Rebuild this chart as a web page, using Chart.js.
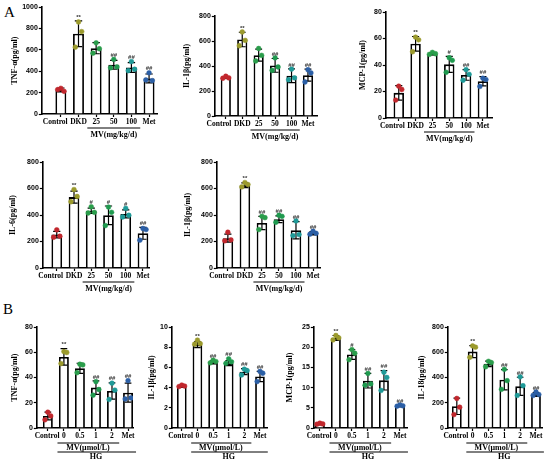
<!DOCTYPE html>
<html>
<head>
<meta charset="utf-8">
<script src="https://cdn.jsdelivr.net/npm/chart.js@4.4.1/dist/chart.umd.min.js"></script>
<style>
  html, body { margin: 0; padding: 0; background: #fff; }
  #fig { position: relative; width: 550px; height: 464px; overflow: hidden; }
  #fig canvas { position: absolute; }
  .plabel { position: absolute; font-family: 'Liberation Serif', serif; font-size: 15px; line-height: 1; }
</style>
</head>
<body>
<div id="fig">
  <div class="plabel" style="left:4px;top:5px">A</div>
  <div class="plabel" style="left:3px;top:302px">B</div>
</div>
<script>
// --- данные ---
const labelsA = ['Control', 'DKD', '25', '50', '100', 'Met'];
const labelsB = ['Control', '0', '0.5', '1', '2', 'Met'];

// A: TNF-α
const tnfA_mean = [225, 750, 615, 460, 435, 332];
const tnfA_sd = [18, 120, 52, 42, 46, 42];
const tnfA_pts = [[240, 212, 228], [860, 770, 625], [665, 610, 568], [510, 440, 432], [490, 418, 405], [385, 312, 318]];
const tnfA_sig = ['', '**', '', '##', '##', '##'];

// A: IL-1β
const il1bA_mean = [308, 612, 487, 405, 322, 327];
const il1bA_sd = [8, 58, 48, 55, 55, 48];
const il1bA_pts = [[318, 305, 302], [672, 605, 562], [540, 485, 440], [465, 392, 365], [375, 305, 290], [370, 345, 272]];
const il1bA_sig = ['', '**', '', '##', '##', '##'];

// A: MCP-1
const mcp1A_mean = [19, 56, 48.5, 40.5, 32.5, 27.7];
const mcp1A_sd = [5.5, 5.5, 0.8, 6, 4, 3.5];
const mcp1A_pts = [[24, 21.5, 13.5], [61, 59, 50], [49.5, 48.5, 48], [45.5, 43.5, 34.5], [36.5, 33, 28.5], [30, 29, 23.8]];
const mcp1A_sig = ['', '**', '', '#', '##', '##'];

// A: IL-6
const il6A_mean = [252, 535, 432, 398, 408, 262];
const il6A_sd = [25, 45, 20, 70, 30, 45];
const il6A_pts = [[288, 240, 232], [592, 540, 500], [462, 420, 415], [460, 420, 320], [450, 398, 385], [298, 290, 210]];
const il6A_sig = ['', '**', '#', '#', '#', '##'];

// A: IL-1β (второй ряд)
const il1bA2_mean = [225, 625, 340, 368, 285, 262];
const il1bA2_sd = [30, 18, 50, 25, 65, 12];
const il1bA2_pts = [[270, 212, 205], [645, 630, 612], [390, 380, 290], [398, 390, 345], [355, 252, 245], [278, 262, 255]];
const il1bA2_sig = ['', '**', '##', '##', '##', '##'];

// B: TNF-α
const tnfB_mean = [9.5, 56.3, 47.3, 32, 29.3, 28];
const tnfB_sd = [3, 6.5, 4, 5.3, 6.5, 7.5];
const tnfB_pts = [[12.5, 9.5, 6.5], [60.5, 59.8, 51], [50.5, 50, 43.8], [36.7, 30.5, 26], [35.5, 30, 22.6], [37.5, 23.8, 23]];
const tnfB_sig = ['', '**', '', '##', '##', '##'];

// B: IL-1β
const il1bB_mean = [4.15, 8.25, 6.5, 6.42, 5.58, 5.1];
const il1bB_sd = [0.1, 0.3, 0.15, 0.25, 0.3, 0.5];
const il1bB_pts = [[4.25, 4.15, 4.1], [8.7, 8.35, 8.3], [6.72, 6.58, 6.45], [6.85, 6.55, 6.4], [5.82, 5.68, 5.25], [5.6, 5.42, 4.6]];
const il1bB_sig = ['', '**', '##', '##', '##', '##'];

// B: MCP-1
const mcp1B_mean = [1.05, 22.3, 18.2, 11.7, 11.8, 5.5];
const mcp1B_sd = [0.2, 0.6, 1.2, 1.8, 2.4, 0.2];
const mcp1B_pts = [[1.2, 1.0, 0.95], [22.9, 22.3, 21.8], [19.4, 18.5, 16.9], [13.5, 10.9, 10.6], [13.8, 12.5, 9.3], [5.7, 5.5, 5.4]];
const mcp1B_sig = ['', '**', '#', '##', '##', '##'];

// B: IL-18
const il18B_mean = [172, 605, 508, 382, 330, 265];
const il18B_sd = [65, 48, 22, 80, 72, 15];
const il18B_pts = [[234, 165, 106], [650, 640, 560], [528, 518, 485], [465, 375, 306], [405, 335, 258], [285, 265, 258]];
const il18B_sig = ['', '**', '', '##', '##', '##'];

// --- оформление ---
const GROUP_COLORS = ['#c1272d', '#9b9a2c', '#2a9d4b', '#1f9a4f', '#1e9a98', '#2b5fa6'];
const JITTER = [0, 0.18, -0.18];
const SERIF = "'Liberation Serif', 'Times New Roman', serif";
const SANS = "'Liberation Sans', Arial, sans-serif";
const XH = 12;   // высота оси X
const PB = 34;   // место под подписи групп

Chart.defaults.font.family = SANS;
Chart.defaults.color = '#000';

const panels = [
  { title: 'TNF-α(pg/ml)', labels: labelsA, mean: tnfA_mean, sd: tnfA_sd, pts: tnfA_pts, sig: tnfA_sig, ymax: 1000, ystep: 200, kind: 'A',
    box: { titleX: 15, axisX: 42, topY: 7, bottomY: 114, endX: 157, xmin: -1.08, xmax: 5.45 } },
  { title: 'IL-1β(pg/ml)', labels: labelsA, mean: il1bA_mean, sd: il1bA_sd, pts: il1bA_pts, sig: il1bA_sig, ymax: 800, ystep: 200, kind: 'A',
    box: { titleX: 187, axisX: 215, topY: 16, bottomY: 116, endX: 317, xmin: -0.67, xmax: 5.55 } },
  { title: 'MCP-1(pg/ml)', labels: labelsA, mean: mcp1A_mean, sd: mcp1A_sd, pts: mcp1A_pts, sig: mcp1A_sig, ymax: 80, ystep: 20, kind: 'A',
    box: { titleX: 363, axisX: 386, topY: 12, bottomY: 118, endX: 492, xmin: -0.77, xmax: 5.54 } },
  { title: 'IL-6(pg/ml)', labels: labelsA, mean: il6A_mean, sd: il6A_sd, pts: il6A_pts, sig: il6A_sig, ymax: 800, ystep: 200, kind: 'A',
    box: { titleX: 13, axisX: 43, topY: 162, bottomY: 268, endX: 149, xmin: -0.81, xmax: 5.35 } },
  { title: 'IL-1β(pg/ml)', labels: labelsA, mean: il1bA2_mean, sd: il1bA2_sd, pts: il1bA2_pts, sig: il1bA2_sig, ymax: 800, ystep: 200, kind: 'A',
    box: { titleX: 188, axisX: 217, topY: 162, bottomY: 268, endX: 320, xmin: -0.65, xmax: 5.41 } },
  { title: 'TNF-α(pg/ml)', labels: labelsB, mean: tnfB_mean, sd: tnfB_sd, pts: tnfB_pts, sig: tnfB_sig, ymax: 80, ystep: 20, kind: 'B',
    box: { titleX: 15, axisX: 37, topY: 327, bottomY: 428, endX: 133, xmin: -0.69, xmax: 5.31 } },
  { title: 'IL-1β(pg/ml)', labels: labelsB, mean: il1bB_mean, sd: il1bB_sd, pts: il1bB_pts, sig: il1bB_sig, ymax: 10, ystep: 2, kind: 'B',
    box: { titleX: 152, axisX: 172, topY: 327, bottomY: 428, endX: 267, xmin: -0.64, xmax: 5.45 } },
  { title: 'MCP-1(pg/ml)', labels: labelsB, mean: mcp1B_mean, sd: mcp1B_sd, pts: mcp1B_pts, sig: mcp1B_sig, ymax: 25, ystep: 5, kind: 'B',
    box: { titleX: 290, axisX: 314, topY: 327, bottomY: 428, endX: 407, xmin: -0.38, xmax: 5.44 } },
  { title: 'IL-18(pg/ml)', labels: labelsB, mean: il18B_mean, sd: il18B_sd, pts: il18B_pts, sig: il18B_sig, ymax: 800, ystep: 200, kind: 'B',
    box: { titleX: 422, axisX: 448, topY: 327, bottomY: 428, endX: 542, xmin: -0.57, xmax: 5.38 } }
];

/**
* Точки отдельных животных/лунок: раскладываем вокруг центра столбца.
*/
function buildPoints(pts) {
  const data = [], colors = [];
  pts.forEach((grp, i) => grp.forEach((v, j) => {
    data.push({ x: i + JITTER[j], y: v });
    colors.push(GROUP_COLORS[i]);
  }));
  return { data, colors };
}

/**
* Плагин: планки ошибок, подписи категорий, значки значимости и подписи групп под осью.
*/
function panelExtras(p) {
  return {
    id: 'panelExtras',
    afterDatasetDraw(chart, args) {
      if (args.index !== 0) return;
      const { ctx, scales: { x, y } } = chart;
      const sp = x.getPixelForValue(1) - x.getPixelForValue(0);
      const cap = sp * 0.21;
      ctx.save();
      ctx.strokeStyle = '#000';
      ctx.lineWidth = 1.2;
      p.mean.forEach((m, i) => {
        const cx = x.getPixelForValue(i);
        const hi = y.getPixelForValue(m + p.sd[i]);
        const lo = y.getPixelForValue(Math.max(m - p.sd[i], 0));
        ctx.beginPath();
        ctx.moveTo(cx, hi); ctx.lineTo(cx, lo);
        ctx.moveTo(cx - cap, hi); ctx.lineTo(cx + cap, hi);
        ctx.moveTo(cx - cap, lo); ctx.lineTo(cx + cap, lo);
        ctx.stroke();
      });
      ctx.restore();
    },
    afterDraw(chart) {
      const { ctx, chartArea, scales: { x, y } } = chart;
      const sp = x.getPixelForValue(1) - x.getPixelForValue(0);
      const bottom = chartArea.bottom;
      ctx.save();

      // подписи категорий: по центру столбца, но без наложения соседей
      ctx.fillStyle = '#000';
      ctx.font = 'bold 7.5px ' + SERIF;
      ctx.textAlign = 'center';
      ctx.textBaseline = 'middle';
      const w = p.labels.map(t => ctx.measureText(t).width);
      const c = p.labels.map((_, i) => x.getPixelForValue(i));
      for (let i = c.length - 2; i >= 0; i--) {
        c[i] = Math.min(c[i], c[i + 1] - w[i + 1] / 2 - 2.5 - w[i] / 2);
      }
      p.labels.forEach((t, i) => ctx.fillText(t, c[i], bottom + 8.5));

      // значимость
      ctx.fillStyle = '#333';
      ctx.font = 'bold 6px ' + SANS;
      ctx.textBaseline = 'bottom';
      p.sig.forEach((s, i) => {
        if (!s) return;
        const top = Math.min(y.getPixelForValue(p.mean[i] + p.sd[i]), ...p.pts[i].map(v => y.getPixelForValue(v)));
        ctx.fillText(s, x.getPixelForValue(i), top - 1);
      });

      // подписи групп
      ctx.strokeStyle = '#000';
      ctx.lineWidth = 1;
      ctx.fillStyle = '#000';
      ctx.font = 'bold 8px ' + SERIF;
      ctx.textBaseline = 'middle';
      const line = (x1, x2, yy) => { ctx.beginPath(); ctx.moveTo(x1, yy); ctx.lineTo(x2, yy); ctx.stroke(); };
      if (p.kind === 'A') {
        line(x.getPixelForValue(2) - 0.5 * sp, x.getPixelForValue(4) + 0.5 * sp, bottom + 14);
        ctx.fillText('MV(mg/kg/d)', x.getPixelForValue(3), bottom + 20.5);
      } else {
        line(x.getPixelForValue(1) - 0.4 * sp, x.getPixelForValue(4) + 0.45 * sp, bottom + 15);
        ctx.fillText('MV(μmol/L)', (x.getPixelForValue(1) + x.getPixelForValue(4)) / 2, bottom + 19.5);
        line(x.getPixelForValue(1) - 0.4 * sp, x.getPixelForValue(5) + 0.5 * sp, bottom + 24);
        ctx.fillText('HG', (x.getPixelForValue(1) + x.getPixelForValue(5)) / 2, bottom + 29);
      }
      ctx.restore();
    }
  };
}

function renderPanel(p) {
  const b = p.box;
  const left = b.titleX - 4.8;
  const top = b.topY - 8;
  const width = Math.round(b.endX + 8 - left);
  const height = Math.round(b.bottomY - top + XH + PB);
  const yw = b.axisX - left;

  const canvas = document.createElement('canvas');
  canvas.width = width;
  canvas.height = height;
  canvas.style.left = left + 'px';
  canvas.style.top = top + 'px';
  canvas.style.width = width + 'px';
  canvas.style.height = height + 'px';
  document.getElementById('fig').appendChild(canvas);

  const pt = buildPoints(p.pts);
  const axisLine = { display: true, color: '#000', width: 1.6 };
  const tickMarks = { display: true, drawOnChartArea: false, drawTicks: true, tickLength: 3, tickWidth: 1.2, tickColor: '#000', offset: false };

  new Chart(canvas, {
    type: 'bar',
    data: {
      datasets: [{
        type: 'bar',
        data: p.mean.map((m, i) => ({ x: i, y: m })),
        backgroundColor: '#fff',
        borderColor: '#000',
        borderWidth: 1.8,
        categoryPercentage: 1,
        barPercentage: 0.62,
        order: 1
      }, {
        type: 'scatter',
        data: pt.data,
        pointBackgroundColor: pt.colors,
        pointBorderColor: pt.colors,
        pointRadius: 2.4,
        pointBorderWidth: 0.5,
        order: 0
      }]
    },
    options: {
      responsive: false,
      animation: false,
      layout: { padding: { left: 0, top: 8, right: 8, bottom: PB } },
      plugins: { legend: { display: false }, tooltip: { enabled: false } },
      scales: {
        x: {
          type: 'linear',
          min: b.xmin,
          max: b.xmax,
          offset: false,
          afterBuildTicks: s => { s.ticks = p.labels.map((_, i) => ({ value: i })); },
          afterFit: s => { s.height = XH; },
          ticks: { display: false },
          grid: tickMarks,
          border: axisLine
        },
        y: {
          min: 0,
          max: p.ymax,
          afterFit: s => { s.width = yw; },
          ticks: {
            stepSize: p.ystep,
            callback: v => String(v),
            padding: 1,
            font: { family: SANS, size: 7, weight: 'bold' },
            color: '#000'
          },
          grid: tickMarks,
          border: axisLine,
          title: { display: true, text: p.title, font: { family: SERIF, size: 8, weight: 'bold' }, color: '#000', padding: 0 }
        }
      }
    },
    plugins: [panelExtras(p)]
  });
}

panels.forEach(renderPanel);
</script>
</body>
</html>
